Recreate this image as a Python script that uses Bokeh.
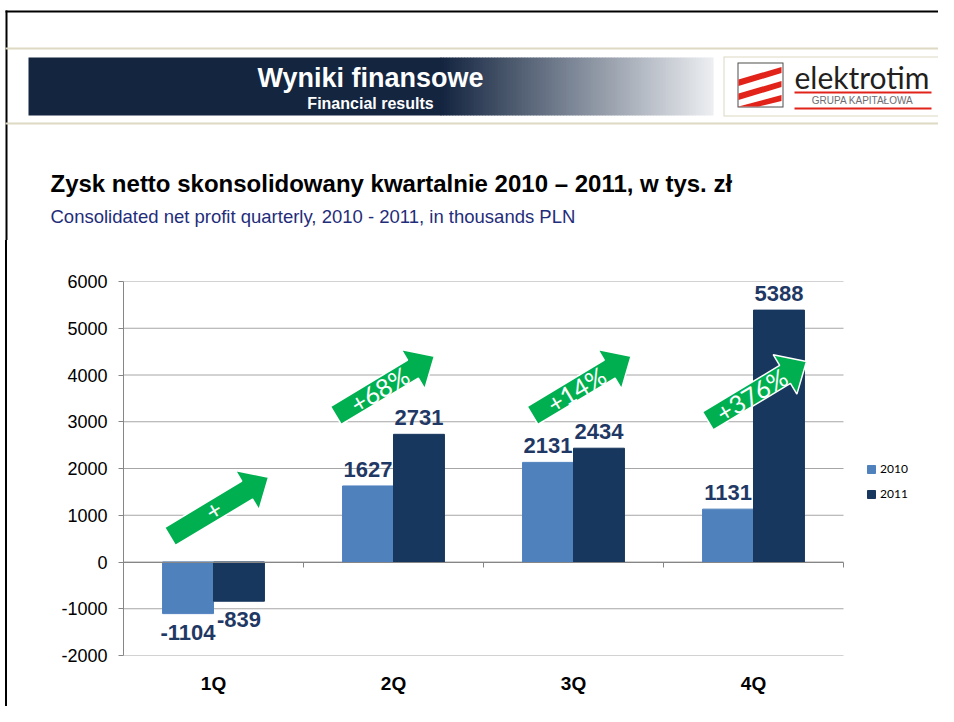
from bokeh.plotting import figure
from bokeh.layouts import column
from bokeh.models import (Range1d, LinearAxis, FixedTicker, ColumnDataSource, LabelSet, Label,
                          PolyAnnotation, Legend, LegendItem)
from bokeh.core.properties import value
from bokeh.embed import file_html
from bokeh.resources import INLINE
import math

# ---------------- data ----------------
quarters = ["1Q", "2Q", "3Q", "4Q"]
profit_2010 = [-1104, 1627, 2131, 1131]
profit_2011 = [-839, 2731, 2434, 5388]
series_names = ["2010", "2011"]
growth_labels = ["+", "+68%", "+14%", "+376%"]
y_ticks = [-2000, -1000, 0, 1000, 2000, 3000, 4000, 5000, 6000]

title_pl = "Zysk netto skonsolidowany kwartalnie 2010 \u2013 2011, w tys. z\u0142"
title_en = "Consolidated net profit quarterly, 2010 - 2011, in thousands PLN"
header_pl = "Wyniki finansowe"
header_en = "Financial results"
logo_name = "elektrotim"
logo_sub = "GRUPA KAPITA\u0141OWA"

# ---------------- layout constants (page pixels) ----------------
W, H = 938, 706
HEAD_H = 240
FL, FR, FT, FB = 123, 843, 281, 655          # chart plot-area edges
YMIN, YMAX = y_ticks[0], y_ticks[-1]
NQ = len(quarters)
PX_PER_Q = (FR - FL) / NQ

C2010 = "#4F81BD"
C2011 = "#17375E"
LABEL_C = "#1F3864"
GREEN = "#00B050"
GRID_C = "#A6A6A6"
AXIS_C = "#868686"
BEIGE = "#DDD9C3"
RED = "#E2231A"

# ---------------- header ----------------
head = figure(width=W, height=HEAD_H, output_backend="svg", toolbar_location=None,
              x_range=Range1d(0, W), y_range=Range1d(HEAD_H, 0),
              x_axis_location=None, y_axis_location=None,
              min_border_left=0, min_border_right=0, min_border_top=0, min_border_bottom=0)
head.frame_align = False
head.grid.visible = False
head.outline_line_color = None
head.background_fill_color = "white"
head.border_fill_color = "white"

head.quad(left=[5, 5, 5, 5], right=[7, W, W, W], top=[10, 10, 47, 122],
          bottom=[HEAD_H, 12, 49, 124], fill_color=["black", "black", BEIGE, BEIGE],
          line_color=None)

navy = (20, 37, 64)
light = (238, 240, 243)
g0, g1, step = 440, 713, 3
lefts, rights, cols = [28], [g0 + 1], ["#%02x%02x%02x" % navy]
x = g0
while x < g1:
    t = (x - g0) / (g1 - g0)
    c = tuple(int(round(navy[i] + (light[i] - navy[i]) * t)) for i in range(3))
    lefts.append(x)
    rights.append(min(x + step + 0.6, g1))
    cols.append("#%02x%02x%02x" % c)
    x += step
head.quad(left=lefts, right=rights, top=[57] * len(lefts), bottom=[115] * len(lefts),
          fill_color=cols, line_color=None)
head.text(x=[370], y=[77], text=[header_pl], text_align="center", text_baseline="middle",
          text_font=value("Liberation Sans"), text_font_style="bold", text_font_size="27px",
          text_color="white")
head.text(x=[370], y=[103], text=[header_en], text_align="center", text_baseline="middle",
          text_font=value("Liberation Sans"), text_font_style="bold", text_font_size="16px",
          text_color="white")

# logo
head.quad(left=[723, 724, 737, 738], right=[947, 946, 783, 782], top=[56, 57, 62, 63],
          bottom=[116, 115, 107, 106], fill_color=[BEIGE, "white", "#4D4D4D", "white"],
          line_color=None)
head.patches(xs=[[738, 781, 781, 738], [738, 781, 781, 738], [738, 781, 781, 758]],
             ys=[[79, 66.5, 72.5, 85.5], [93, 80.5, 86.5, 99.5], [106, 94.5, 100.5, 106]],
             fill_color=RED, line_color=None)
head.text(x=[794], y=[76], text=[logo_name], text_align="left", text_baseline="middle",
          text_font=value("Lato"), text_font_size="30px", text_color="#231F20")
head.quad(left=[794, 794], right=[931, 931], top=[91, 107], bottom=[93, 109],
          fill_color=RED, line_color=None)
head.text(x=[862], y=[100], text=[logo_sub], text_align="center", text_baseline="middle",
          text_font=value("Liberation Sans"), text_font_size="10px", text_color="#6D6E71")

# titles
head.text(x=[50], y=[183], text=[title_pl], text_align="left", text_baseline="middle",
          text_font=value("Liberation Sans"), text_font_style="bold", text_font_size="24px",
          text_color="black")
head.text(x=[50], y=[216], text=[title_en], text_align="left", text_baseline="middle",
          text_font=value("Liberation Sans"), text_font_size="18.5px", text_color="#1F2D7A")

# ---------------- chart ----------------
CH = H - HEAD_H
p = figure(width=W, height=CH, output_backend="svg", toolbar_location=None,
           x_range=Range1d(0, NQ + (W - FR) / PX_PER_Q), y_range=Range1d(YMIN, YMAX),
           min_border_left=FL, min_border_right=0,
           min_border_top=FT - HEAD_H, min_border_bottom=H - FB)
p.frame_align = False
p.outline_line_color = None
p.background_fill_color = "white"
p.border_fill_alpha = 0
p.styles = {"background": "linear-gradient(#000, #000) 5px 0 / 2px 100% no-repeat, #fff"}


def DX(px):
    return (px - FL) / PX_PER_Q


def DY(py):
    return YMAX - (py - FT) / (FB - FT) * (YMAX - YMIN)


# horizontal gridlines limited to the category span
p.xgrid.visible = False
p.ygrid.visible = False
p.segment(x0=[0] * len(y_ticks), x1=[NQ] * len(y_ticks), y0=y_ticks, y1=y_ticks,
          line_color=GRID_C, line_width=1)

bw = 0.283
off = 0.1415
centers = [i + 0.5 for i in range(NQ)]
src10 = ColumnDataSource(dict(x=[c - off for c in centers], top=profit_2010))
src11 = ColumnDataSource(dict(x=[c + off for c in centers], top=profit_2011))
r10 = p.vbar(x="x", top="top", bottom=0, width=bw, source=src10,
             fill_color=C2010, line_color=C2010)
r11 = p.vbar(x="x", top="top", bottom=0, width=bw, source=src11,
             fill_color=C2011, line_color=C2011)

xa = p.xaxis[0]
xa.ticker = FixedTicker(ticks=centers)
xa.major_label_overrides = {c: q for c, q in zip(centers, quarters)}
xa.axis_line_color = None
xa.major_tick_line_color = None
xa.minor_tick_line_color = None
xa.major_tick_out = 0
xa.major_tick_in = 0
xa.major_label_standoff = 17
xa.major_label_text_font = "Liberation Sans"
xa.major_label_text_font_style = "bold"
xa.major_label_text_font_size = "19px"
xa.major_label_text_color = "black"

ya = p.yaxis[0]
ya.ticker = FixedTicker(ticks=y_ticks)
ya.major_label_overrides = {v: str(v) for v in y_ticks}
ya.axis_line_color = AXIS_C
ya.major_tick_line_color = AXIS_C
ya.major_tick_out = 5
ya.major_tick_in = 0
ya.minor_tick_line_color = None
ya.major_label_standoff = 11
ya.major_label_text_font = "Liberation Sans"
ya.major_label_text_font_size = "18px"
ya.major_label_text_color = "black"

zero_axis = LinearAxis(fixed_location=0, ticker=FixedTicker(ticks=list(range(NQ + 1))),
                       bounds=(0, NQ),
                       major_tick_in=0, major_tick_out=5, minor_tick_line_color=None,
                       axis_line_color=AXIS_C, major_tick_line_color=AXIS_C,
                       major_label_standoff=0, major_label_text_font_size="1px",
                       major_label_overrides={i: "" for i in range(NQ + 1)})
p.add_layout(zero_axis, "below")

# value labels
pos = dict(x=[], y=[], t=[])
neg = dict(x=[], y=[], t=[])
for xs_, vals in ((src10.data["x"], profit_2010), (src11.data["x"], profit_2011)):
    for xv, v in zip(xs_, vals):
        d = pos if v >= 0 else neg
        d["x"].append(xv)
        d["y"].append(v)
        d["t"].append(str(v))
lab_kw = dict(text_font=value("Liberation Sans"), text_font_style="bold",
              text_font_size="22px", text_color=LABEL_C, text_align="center")
p.add_layout(LabelSet(x="x", y="y", text="t", source=ColumnDataSource(pos),
                      text_baseline="alphabetic", y_offset=9, **lab_kw))
p.add_layout(LabelSet(x="x", y="y", text="t", source=ColumnDataSource(neg),
                      text_baseline="top", y_offset=-11, **lab_kw))

# growth arrows (decoration)
arrow_tails = [(169.5, 536), (335.3, 415), (532.0, 415), (707.4, 420.3)]
ang = math.radians(31)
ux, uy = math.cos(ang), -math.sin(ang)
nx, ny = -uy, ux
shaft_len, shaft_w, head_len, head_w = 90, 21, 25, 46
for (tx, ty), g in zip(arrow_tails, growth_labels):
    hw, hh = shaft_w / 2, head_w / 2
    bx, by = tx + ux * shaft_len, ty + uy * shaft_len
    pts = [(tx + nx * hw, ty + ny * hw), (bx + nx * hw, by + ny * hw),
           (bx + nx * hh, by + ny * hh), (bx + ux * head_len, by + uy * head_len),
           (bx - nx * hh, by - ny * hh), (bx - nx * hw, by - ny * hw),
           (tx - nx * hw, ty - ny * hw)]
    p.add_layout(PolyAnnotation(xs=[DX(a) for a, b in pts], ys=[DY(b) for a, b in pts],
                                fill_color=GREEN, fill_alpha=1, line_color="white",
                                line_width=1.5, line_alpha=1))
    cx, cy = tx + ux * 51, ty + uy * 51
    p.add_layout(Label(x=DX(cx), y=DY(cy), text=g, angle=ang, text_align="center",
                       text_baseline="middle", text_font="Lato", text_font_size="25px",
                       text_color="white"))

legend = Legend(items=[LegendItem(label=series_names[0], renderers=[r10]),
                       LegendItem(label=series_names[1], renderers=[r11])],
                location=(866 - FL, FB - 501), glyph_width=10, glyph_height=10,
                label_height=15, spacing=10, label_standoff=4, padding=0, margin=0,
                border_line_color=None, background_fill_alpha=0,
                label_text_font="Lato", label_text_font_size="12px",
                label_text_color="black")
p.add_layout(legend)

layout = column(head, p, spacing=0)
open("out.html", "w").write(file_html(layout, INLINE))
